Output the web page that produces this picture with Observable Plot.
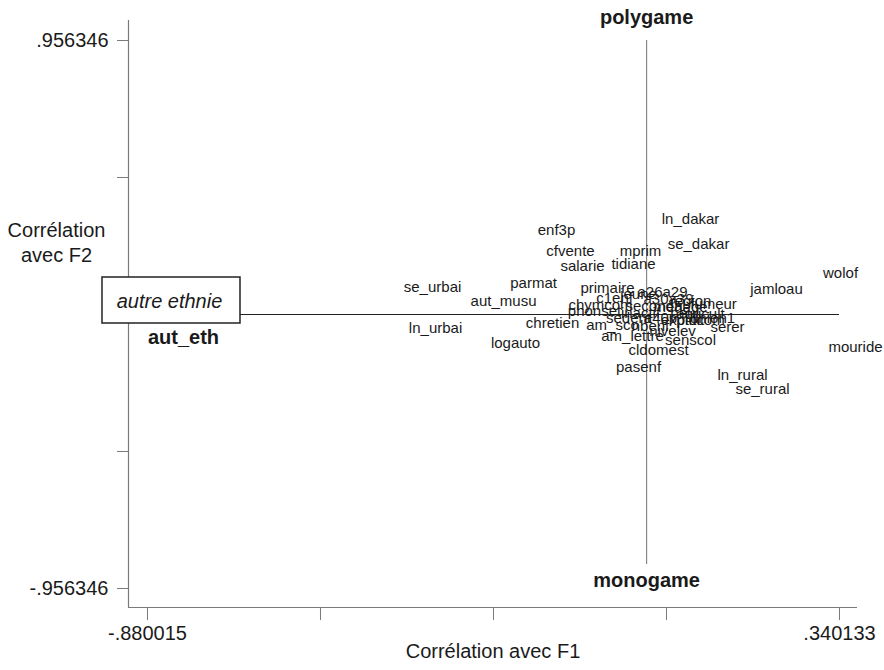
<!DOCTYPE html>
<html>
<head>
<meta charset="utf-8">
<script src="https://cdn.jsdelivr.net/npm/d3@7"></script>
<script src="https://cdn.jsdelivr.net/npm/@observablehq/plot@0.6"></script>
<style>
  html, body { margin: 0; padding: 0; background: #fff; }
  #chart { width: 884px; height: 670px; }
</style>
</head>
<body>
<div id="chart"></div>
<script>
// ---- data ----
const labels = [
  "enf3p","ln_dakar","cfvente","mprim","se_dakar","salarie","tidiane","wolof","jamloau","se_urbai",
  "parmat","primaire","a26a29","aut_musu","chretien","ln_urbai","logauto","mouride","ln_rural","se_rural",
  "pasenf","cldomest","senscol","serer","nivelev","am_sco","am_lettre","c1enf","chymcom","phonset",
  "fumeur","a30a39","region","menage","secondai","peul","agricult","exploit","ptitcom","inactif",
  "a40p","union1","sedent","nbenf","jeune"
];
const f1 = [
  -0.1588, 0.0775, -0.1341, -0.0107, 0.0916, -0.1130, -0.0230, 0.3420, 0.2291, -0.3774,
  -0.1993, -0.0689, 0.0281, -0.2522, -0.1658, -0.3721, -0.2311, 0.3684, 0.1692, 0.2044,
  -0.0142, 0.0211, 0.0775, 0.1427, 0.0457, -0.0601, -0.0248, -0.0565, -0.0812, -0.0918,
  0.1180, 0.0387, 0.0775, 0.0598, 0.0158, 0.0669, 0.0951, 0.0634, 0.0951, -0.0107,
  0.0246, 0.1163, -0.0318, 0.0069, -0.0142
];
const f2 = [
  0.2932, 0.3316, 0.2199, 0.2199, 0.2443, 0.1675, 0.1745, 0.1431, 0.0873, 0.0942,
  0.1082, 0.0907, 0.0768, 0.0454, -0.0314, -0.0489, -0.1012, -0.1152, -0.2129, -0.2618,
  -0.1850, -0.1256, -0.0907, -0.0454, -0.0593, -0.0384, -0.0768, 0.0558, 0.0314, 0.0105,
  0.0349, 0.0524, 0.0454, 0.0244, 0.0279, 0.0035, 0.0000, -0.0209, -0.0209, 0.0035,
  -0.0140, -0.0140, -0.0140, -0.0419, 0.0698
];
// highlighted supplementary category
const suppLabel = ["aut_eth"];
const suppName = ["autre ethnie"];
const suppF1 = [-0.880015];
const suppF2 = [0.0];
// axis end labels
const f2EndLabels = ["polygame", "monogame"];
const f2Line = [0.956346, -0.873];
const f1Line = [-0.880015, 0.340133];
// ticks
const xTicks = [-0.880015, -0.574978, -0.269941, 0.035096, 0.340133];
const yTicks = [-0.956346, -0.478173, 0, 0.478173, 0.956346];
const xDomain = [-0.9135, 0.3719];
const yDomain = [-1.0227, 1.0262];
const xTitle = "Corrélation avec F1";
const yTitle = "Corrélation\navec F2";

// ---- build ----
const pts = labels.map((l, i) => ({label: l, x: f1[i], y: f2[i]}));
const supp = suppLabel.map((l, i) => ({label: l, name: suppName[i], x: suppF1[i], y: suppF2[i]}));
const topEnd = [{label: f2EndLabels[0], x: 0, y: f2Line[0]}];
const botEnd = [{label: f2EndLabels[1], x: 0, y: f2Line[1]}];
const fmt = d => {
  const s = d3.format(".6f")(Math.abs(d)).replace(/^0/, "");
  return (d < 0 ? "-" : "") + s;
};
const xFmt = d => (d === xTicks[0] || d === xTicks[xTicks.length - 1]) ? fmt(d) : "";
const yFmt = d => (d === yTicks[0] || d === yTicks[yTicks.length - 1]) ? fmt(d) : "";

const FONT = "'Liberation Sans', Arial, Helvetica, sans-serif";
const INK = "#1a1a1a";
const AX = "#7a7a7a";

const chart = Plot.plot({
  width: 884,
  height: 670,
  marginLeft: 128,
  marginRight: 27,
  marginTop: 20,
  marginBottom: 63,
  style: {fontFamily: FONT, color: INK, background: "#fff"},
  x: {domain: xDomain},
  y: {domain: yDomain},
  marks: [
    Plot.ruleX([xDomain[0]], {stroke: AX, strokeWidth: 1.2}),
    Plot.ruleY([yDomain[0]], {stroke: AX, strokeWidth: 1.2}),
    Plot.axisX({ticks: xTicks, tickFormat: xFmt, tickSize: 13, tickPadding: 5, fontSize: 20, label: null, stroke: AX, fill: INK}),
    Plot.axisY({ticks: yTicks, tickFormat: yFmt, tickSize: 11, tickPadding: 9, fontSize: 20, label: null, stroke: AX, fill: INK}),
    Plot.text([xTitle], {frameAnchor: "bottom", dy: 50, fontSize: 20, fill: INK}),
    Plot.text([yTitle], {frameAnchor: "left", textAnchor: "middle", dx: -72, dy: -73, fontSize: 20, lineHeight: 1.25, fill: INK}),
    Plot.ruleY([0], {x1: f1Line[0], x2: f1Line[1], stroke: "#222", strokeWidth: 1}),
    Plot.ruleX([0], {y1: f2Line[0], y2: f2Line[1], stroke: "#888", strokeWidth: 1.2}),
    Plot.rect(supp, {x1: "x", x2: "x", y1: "y", y2: "y",
      insetLeft: -45, insetRight: -93, insetTop: -37, insetBottom: -9,
      fill: "#fff", stroke: "#222", strokeWidth: 1.5}),
    Plot.text(supp, {x: "x", y: "y", text: "name", dx: 22, dy: -13, fontSize: 20, fontStyle: "italic", fill: INK}),
    Plot.text(supp, {x: "x", y: "y", text: "label", dx: 36, dy: 23, fontSize: 20, fontWeight: "bold", fill: INK}),
    Plot.text(topEnd, {x: "x", y: "y", text: "label", dy: -23, fontSize: 20, fontWeight: "bold", fill: INK}),
    Plot.text(botEnd, {x: "x", y: "y", text: "label", dy: 16, fontSize: 20, fontWeight: "bold", fill: INK}),
    Plot.text(pts, {x: "x", y: "y", text: "label", fontSize: 15, fill: INK})
  ]
});
document.getElementById("chart").appendChild(chart);
</script>
</body>
</html>
